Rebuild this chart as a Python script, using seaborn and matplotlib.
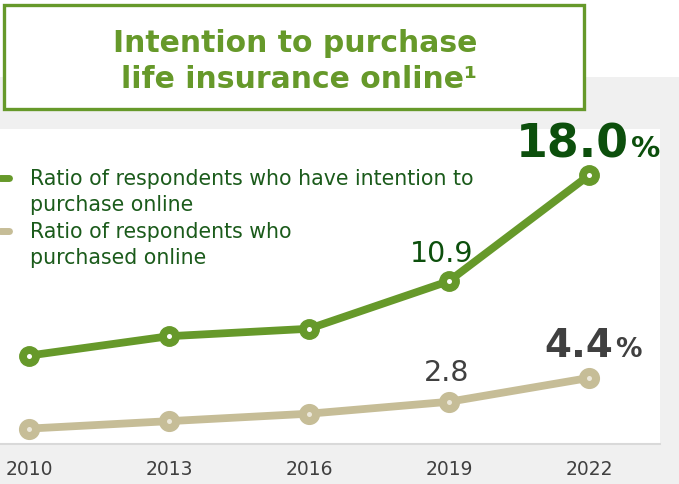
import matplotlib
matplotlib.use("Agg")
import matplotlib.pyplot as plt
from matplotlib.patches import Rectangle
from matplotlib.lines import Line2D
import seaborn as sns
import pandas as pd

# Survey results (%)
years = [2010, 2013, 2016, 2019, 2022]
intention = [5.9, 7.2, 7.7, 10.9, 18.0]
purchased = [1.0, 1.5, 2.0, 2.8, 4.4]
series_names = [
    "Ratio of respondents who have intention to\npurchase online",
    "Ratio of respondents who\npurchased online",
]
title_lines = "Intention to purchase\nlife insurance online\u00b9"

GREEN = "#66992a"
TAN = "#c6bd97"
DARK_GREEN = "#0c4f0c"
LEGEND_GREEN = "#1b5b1b"
GREY_TXT = "#404040"
BG = "#f0f0f0"

df = pd.DataFrame({
    "year": years * 2,
    "value": intention + purchased,
    "series": [series_names[0]] * len(years) + [series_names[1]] * len(years),
})

sns.set_theme(style="white")
plt.rcParams["font.family"] = ["DejaVu Sans"]

W, H = 679, 484
fig = plt.figure(figsize=(W / 100, H / 100), dpi=100, facecolor="white")

# grey slide background below the title strip
fig.add_artist(Rectangle((0, 0), 1, (H - 77) / H, transform=fig.transFigure,
                         facecolor=BG, edgecolor="none", zorder=0))

# white plotting panel
ax = fig.add_axes([0, (H - 443.5) / H, 660 / W, (443.5 - 129) / H])
ax.set_facecolor("white")
ax.set_zorder(1)

px_per_unit = 14.9
x0 = 29
step = 140
ax.set_xlim(2010 - x0 / step * 3, 2010 + (660 - x0) / step * 3)
ax.set_ylim(0, (443.5 - 129) / px_per_unit)

sns.lineplot(data=df, x="year", y="value", hue="series",
             palette={series_names[0]: GREEN, series_names[1]: TAN},
             linewidth=5.6, legend=False, ax=ax, zorder=3)
for vals, col, ms, dot in [(intention, GREEN, 14, "white"), (purchased, TAN, 14.2, "#ece8da")]:
    ax.plot(years, vals, linestyle="none", marker="o", markersize=ms,
            markerfacecolor=col, markeredgecolor=col, zorder=4)
    ax.plot(years, vals, linestyle="none", marker="o", markersize=3.6,
            markerfacecolor=dot, markeredgecolor="none", zorder=5)

for s in ["top", "left", "right"]:
    ax.spines[s].set_visible(False)
ax.spines["bottom"].set_color("#d9d9d9")
ax.spines["bottom"].set_linewidth(1.5)
ax.set_yticks([])
ax.set_xticks(years)
ax.set_xticklabels([str(y) for y in years])
ax.tick_params(axis="x", length=0, pad=12, labelsize=13.5, labelcolor=GREY_TXT)
ax.set_xlabel("")
ax.set_ylabel("")

# value labels
ax.annotate(f"{intention[3]:.1f}", (years[3], intention[3]), xytext=(-7, 19),
            textcoords="offset pixels", ha="center", va="baseline",
            fontsize=20.5, color=DARK_GREEN, zorder=6)
ax.annotate(f"{purchased[3]:.1f}", (years[3], purchased[3]), xytext=(-2, 20.5),
            textcoords="offset pixels", ha="center", va="baseline",
            fontsize=20.5, color=GREY_TXT, zorder=6)
ax.annotate(f"{intention[4]:.1f}", (years[4], intention[4]), xytext=(40, 18),
            textcoords="offset pixels", ha="right", va="baseline",
            fontsize=33, fontweight="bold", color=DARK_GREEN, zorder=6,
            annotation_clip=False)
ax.annotate("%", (years[4], intention[4]), xytext=(42, 18),
            textcoords="offset pixels", ha="left", va="baseline",
            fontsize=21, fontweight="bold", color=DARK_GREEN, zorder=6,
            annotation_clip=False)
ax.annotate(f"{purchased[4]:.1f}", (years[4], purchased[4]), xytext=(24, 20.5),
            textcoords="offset pixels", ha="right", va="baseline",
            fontsize=28, fontweight="bold", color=GREY_TXT, zorder=6)
ax.annotate("%", (years[4], purchased[4]), xytext=(26, 20.5),
            textcoords="offset pixels", ha="left", va="baseline",
            fontsize=19, fontweight="bold", color=GREY_TXT, zorder=6)

# legend drawn as short bars with wrapped labels
for (name, col, y_bar, y_txt) in [(series_names[0], GREEN, 177.5, 185),
                                  (series_names[1], TAN, 231, 238)]:
    fig.add_artist(Line2D([0 / W, 9 / W], [1 - y_bar / H, 1 - y_bar / H],
                          transform=fig.transFigure, color=col, linewidth=5,
                          solid_capstyle="round", zorder=5))
    fig.text(30 / W, 1 - y_txt / H, name.split("\n")[0], fontsize=14.8,
             color=LEGEND_GREEN, ha="left", va="baseline", zorder=5)
    fig.text(30 / W, 1 - (y_txt + 26) / H, name.split("\n")[1], fontsize=14.8,
             color=LEGEND_GREEN, ha="left", va="baseline", zorder=5)

# title box
fig.add_artist(Rectangle((4 / W, 1 - 109 / H), 580 / W, 104 / H,
                         transform=fig.transFigure, facecolor="white",
                         edgecolor=GREEN, linewidth=2.4, zorder=6))
l1, l2 = title_lines.split("\n")
fig.text(295.5 / W, 1 - 52 / H, l1, fontsize=21.5, fontweight="bold", color=GREEN,
         ha="center", va="baseline", zorder=7)
fig.text(299 / W, 1 - 88 / H, l2, fontsize=21.5, fontweight="bold", color=GREEN,
         ha="center", va="baseline", zorder=7)

fig.savefig("out.png", dpi=100, facecolor=fig.get_facecolor())
